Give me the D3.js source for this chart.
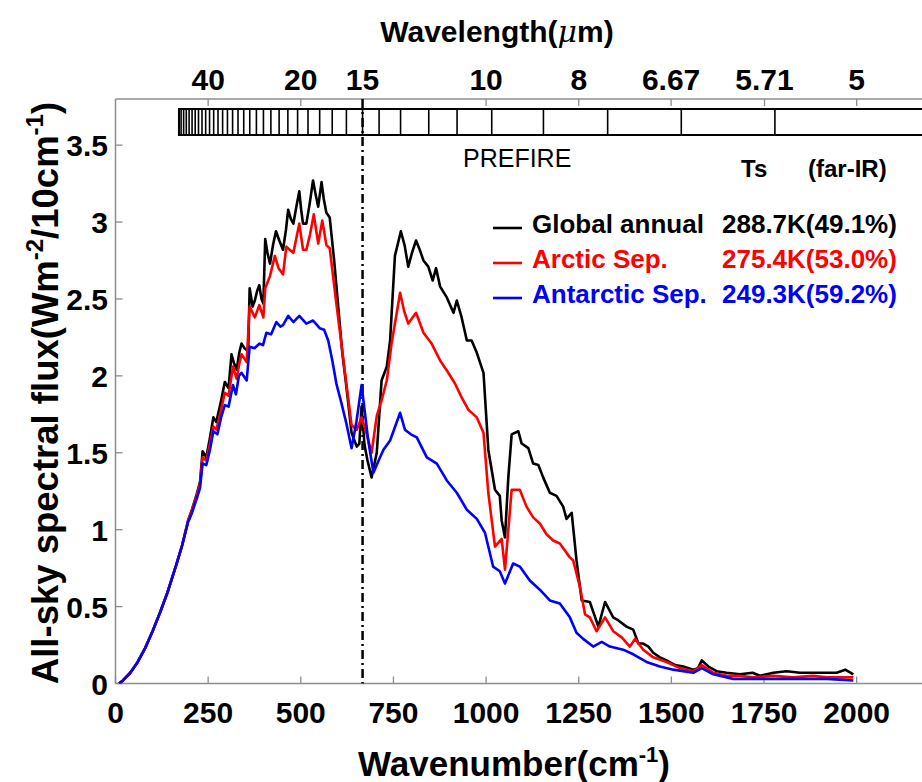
<!DOCTYPE html>
<html><head><meta charset="utf-8">
<script src="https://cdn.jsdelivr.net/npm/d3@7"></script>
<style>body{margin:0;background:#fff} svg{display:block} text{font-family:"Liberation Sans",Arial,Helvetica,sans-serif}</style>
</head><body><svg id="c" width="922" height="782"></svg>
<script>
// ---------- data ----------
const wnGlobal = [10,20,40,60,80,100,120,140,165,180,196,205,219,228,235,245,255,264,272,285,295,305,313,320,327,334,340,348,358,362,370,376,382,388,394,399,404,410,417,425,433,442,452,460,466,473,480,488,496,501,506,515,524,533,540,547,556,562,569,578,590,601,612,623,637,651,658,664,672,680,691,705,718,732,741,754,770,780,790,800,811,821,831,844,856,865,876,894,912,921,934,948,961,975,993,1006,1024,1037,1042,1051,1060,1069,1087,1096,1114,1127,1141,1154,1172,1190,1208,1217,1231,1244,1258,1280,1303,1321,1343,1357,1379,1397,1411,1424,1438,1451,1469,1487,1510,1532,1559,1572,1582,1600,1622,1649,1685,1719,1739,1775,1811,1847,1883,1919,1946,1969,1991];
const fluxGlobal = [0.00,0.02,0.07,0.14,0.23,0.34,0.46,0.59,0.78,0.90,1.06,1.12,1.23,1.31,1.51,1.47,1.60,1.73,1.70,1.84,1.96,1.92,2.14,2.08,2.04,2.15,2.21,2.18,2.16,2.57,2.45,2.49,2.55,2.59,2.50,2.47,2.89,2.80,2.73,2.85,2.94,2.88,2.82,2.95,3.08,3.02,2.99,3.10,3.20,3.08,2.99,2.99,3.12,3.27,3.18,3.10,3.26,3.15,3.06,3.03,2.75,2.45,2.15,1.93,1.63,1.54,1.56,1.80,1.55,1.45,1.34,1.50,1.97,2.06,2.23,2.78,2.94,2.85,2.71,2.80,2.88,2.82,2.75,2.71,2.62,2.70,2.58,2.51,2.41,2.49,2.38,2.23,2.23,2.15,2.02,1.52,1.26,1.22,1.06,0.95,1.34,1.62,1.64,1.56,1.53,1.43,1.42,1.34,1.24,1.22,1.15,1.07,1.11,0.80,0.54,0.53,0.37,0.53,0.43,0.41,0.37,0.35,0.26,0.26,0.24,0.20,0.17,0.15,0.12,0.11,0.09,0.10,0.15,0.11,0.08,0.07,0.06,0.07,0.05,0.07,0.08,0.07,0.07,0.07,0.07,0.09,0.06];

const wnArctic = [10,20,40,60,80,100,120,140,165,180,196,205,219,228,235,245,255,264,272,285,295,305,317,327,334,340,354,362,376,388,399,404,417,430,440,452,461,470,480,496,506,515,525,535,547,558,569,578,596,610,623,637,651,664,678,691,705,718,732,745,768,779,790,811,831,853,876,898,916,934,952,975,993,1006,1024,1042,1051,1069,1091,1109,1127,1145,1163,1181,1199,1226,1235,1253,1267,1280,1298,1321,1343,1366,1388,1402,1424,1451,1487,1523,1559,1582,1613,1649,1685,1721,1775,1829,1883,1919,1960,1991];
const fluxArctic = [0.00,0.02,0.07,0.14,0.23,0.34,0.46,0.59,0.78,0.90,1.06,1.12,1.22,1.30,1.47,1.45,1.56,1.67,1.65,1.78,1.89,1.87,2.06,1.98,2.08,2.14,2.09,2.45,2.38,2.46,2.38,2.57,2.65,2.78,2.70,2.66,2.84,2.82,2.80,2.99,2.82,2.82,2.92,3.05,2.86,3.01,2.85,2.83,2.47,2.20,1.95,1.68,1.65,1.73,1.62,1.50,1.74,1.84,1.97,2.21,2.54,2.42,2.34,2.41,2.28,2.21,2.10,2.02,1.95,1.86,1.78,1.73,1.63,1.24,0.89,0.94,0.74,1.26,1.26,1.15,1.08,1.04,0.97,0.93,0.91,0.82,0.80,0.63,0.45,0.43,0.34,0.43,0.34,0.30,0.24,0.29,0.22,0.17,0.14,0.10,0.08,0.12,0.07,0.05,0.05,0.04,0.05,0.04,0.05,0.04,0.04,0.04];

const wnAntarctic = [10,20,40,60,80,100,120,140,165,180,196,205,219,228,235,245,255,264,275,285,295,305,317,325,333,340,354,362,375,389,398,407,420,434,445,452,466,480,496,515,533,551,563,574,585,596,610,623,637,650,664,682,696,710,723,741,768,781,797,813,840,867,894,921,948,975,997,1019,1037,1051,1073,1091,1118,1145,1172,1199,1226,1244,1262,1289,1312,1334,1370,1397,1433,1469,1505,1559,1582,1613,1667,1739,1829,1919,1991];
const fluxAntarctic = [0.00,0.02,0.07,0.14,0.23,0.34,0.46,0.59,0.78,0.90,1.05,1.10,1.20,1.27,1.43,1.42,1.52,1.64,1.62,1.73,1.81,1.80,1.94,1.88,2.00,2.02,1.97,2.19,2.18,2.21,2.20,2.28,2.27,2.35,2.32,2.33,2.39,2.35,2.39,2.34,2.36,2.31,2.30,2.23,2.10,1.95,1.82,1.69,1.53,1.70,1.94,1.58,1.37,1.45,1.52,1.58,1.76,1.65,1.62,1.60,1.47,1.43,1.32,1.24,1.13,1.07,0.98,0.76,0.73,0.65,0.78,0.76,0.67,0.61,0.54,0.52,0.43,0.33,0.29,0.24,0.27,0.24,0.22,0.19,0.14,0.11,0.09,0.07,0.10,0.06,0.03,0.03,0.03,0.03,0.02];

const seriesNames = ["Global annual","Arctic Sep.","Antarctic Sep."];
const seriesTs = ["288.7K(49.1%)","275.4K(53.0%)","249.3K(59.2%)"];
const seriesColors = ["#000000","#ff0000","#0000ff"];

const xTicks = [0,250,500,750,1000,1250,1500,1750,2000];
const yTicks = [0,0.5,1,1.5,2,2.5,3,3.5];
const yTickLabels = ["0","0.5","1","1.5","2","2.5","3","3.5"];
const wavelengthTicks = [40,20,15,10,8,6.67,5.71,5];
const wavelengthLabels = ["40","20","15","10","8","6.67","5.71","5"];
const co2BandUm = 15; // dash-dot marker
// PREFIRE channel edges (μm)
const bandEdgesUm = [5.62,6.55,7.53,8.66,9.85,10.85,11.83,13.0,14.06,15.0,16.05,17.1,18.15,19.25,20.35,21.5,22.65,23.85,25.05,26.3,27.6,28.9,30.25,31.65,33.1,34.6,36.15,37.75,39.4,41.1,42.85,44.65,46.5,48.4,50.35,52.35,54.4,56.5,58.4];

// ---------- layout ----------
const svg = d3.select("#c");
const x = d3.scaleLinear().domain([0,2200]).range([115.5,930.8]);
const y = d3.scaleLinear().domain([0,3.8]).range([683.5,99]);
const axisCol = "#8c8c8c";

svg.append("clipPath").attr("id","clip").append("rect")
  .attr("x",x(0)).attr("y",y(3.8)).attr("width",x(2200)-x(0)).attr("height",y(0)-y(3.8));

// axis box
const g = svg.append("g");
g.append("line").attr("x1",x(0)).attr("x2",x(2200)).attr("y1",y(0)).attr("y2",y(0)).attr("stroke",axisCol).attr("stroke-width",1.5);
g.append("line").attr("x1",x(0)).attr("x2",x(2200)).attr("y1",y(3.8)).attr("y2",y(3.8)).attr("stroke",axisCol).attr("stroke-width",1.5);
g.append("line").attr("x1",x(0)).attr("x2",x(0)).attr("y1",y(0)).attr("y2",y(3.8)).attr("stroke",axisCol).attr("stroke-width",1.5);

// bottom ticks
g.selectAll(".xt").data(xTicks).join("line")
  .attr("x1",d=>x(d)).attr("x2",d=>x(d)).attr("y1",y(0)).attr("y2",y(0)-7)
  .attr("stroke",axisCol).attr("stroke-width",1.3);
g.selectAll(".xl").data(xTicks).join("text")
  .attr("x",d=>x(d)).attr("y",723).attr("text-anchor","middle")
  .attr("font-size",30).attr("font-weight","bold").attr("fill","#000").text(d=>d);
// left ticks
g.selectAll(".yt").data(yTicks).join("line")
  .attr("x1",x(0)).attr("x2",x(0)+7).attr("y1",d=>y(d)).attr("y2",d=>y(d))
  .attr("stroke",axisCol).attr("stroke-width",1.3);
g.selectAll(".yl").data(yTicks).join("text")
  .attr("x",108).attr("y",d=>y(d)+11).attr("text-anchor","end")
  .attr("font-size",30).attr("font-weight","bold").attr("fill","#000").text((d,i)=>yTickLabels[i]);
// top ticks (wavelength)
g.selectAll(".tt").data(wavelengthTicks).join("line")
  .attr("x1",d=>x(10000/d)).attr("x2",d=>x(10000/d)).attr("y1",y(3.8)).attr("y2",y(3.8)+7)
  .attr("stroke",axisCol).attr("stroke-width",1.3);
g.selectAll(".tl").data(wavelengthTicks).join("text")
  .attr("x",d=>x(10000/d)).attr("y",90).attr("text-anchor","middle")
  .attr("font-size",30).attr("font-weight","bold").attr("fill","#000").text((d,i)=>wavelengthLabels[i]);

// titles
const tTop = svg.append("text").attr("x",497).attr("y",42).attr("text-anchor","middle")
  .attr("font-size",30).attr("font-weight","bold");
tTop.append("tspan").text("Wavelength(");
tTop.append("tspan").attr("font-style","italic").attr("font-family","'DejaVu Serif',serif").attr("font-weight","normal").text("\u03bc");
tTop.append("tspan").text("m)");

const tBot = svg.append("text").attr("x",514).attr("y",776).attr("text-anchor","middle")
  .attr("font-size",35).attr("font-weight","bold");
tBot.append("tspan").text("Wavenumber(cm");
tBot.append("tspan").attr("font-size",22).attr("dy",-14).text("-1");
tBot.append("tspan").attr("dy",14).text(")");

const tY = svg.append("text").attr("transform","translate(58,393) rotate(-90)").attr("text-anchor","middle")
  .attr("font-size",36.5).attr("font-weight","bold");
tY.append("tspan").text("All-sky spectral flux(Wm");
tY.append("tspan").attr("font-size",24).attr("dy",-15).text("-2");
tY.append("tspan").attr("dy",15).text("/10cm");
tY.append("tspan").attr("font-size",24).attr("dy",-15).text("-1");
tY.append("tspan").attr("dy",15).text(")");

// PREFIRE band box
const bandTop = 109, bandBot = 135;
const edgesWn = bandEdgesUm.map(u=>10000/u);
const bandG = svg.append("g").attr("clip-path","url(#clip)");
bandG.append("rect").attr("x",x(d3.min(edgesWn))).attr("y",bandTop)
  .attr("width",x(2200)-x(d3.min(edgesWn))+20).attr("height",bandBot-bandTop)
  .attr("fill","none").attr("stroke","#000").attr("stroke-width",2);
bandG.selectAll(".be").data(edgesWn).join("line")
  .attr("x1",d=>x(d)).attr("x2",d=>x(d)).attr("y1",bandTop).attr("y2",bandBot)
  .attr("stroke","#000").attr("stroke-width",1.6);

// dash-dot 15 μm line
svg.append("line").attr("x1",x(10000/co2BandUm)).attr("x2",x(10000/co2BandUm))
  .attr("y1",y(3.8)).attr("y2",y(0)).attr("stroke","#000").attr("stroke-width",2.5)
  .attr("stroke-dasharray","9,4,2,4");

// curves
const line = d3.line().x(d=>x(d[0])).y(d=>y(d[1]));
const series = [d3.zip(wnGlobal,fluxGlobal), d3.zip(wnArctic,fluxArctic), d3.zip(wnAntarctic,fluxAntarctic)];
const cg = svg.append("g").attr("clip-path","url(#clip)");
series.forEach((s,i)=>{
  cg.append("path").attr("d",line(s)).attr("fill","none").attr("stroke",seriesColors[i])
    .attr("stroke-width",2.6).attr("stroke-linejoin","round");
});

// annotations
svg.append("text").attr("x",463).attr("y",167).attr("font-size",25).text("PREFIRE");
svg.append("text").attr("x",741).attr("y",177).attr("font-size",24).attr("font-weight","bold").text("Ts");
svg.append("text").attr("x",808).attr("y",177).attr("font-size",24).attr("font-weight","bold").text("(far-IR)");

// legend
const lg = svg.append("g");
seriesNames.forEach((n,i)=>{
  const by = 233 + i*35;
  lg.append("line").attr("x1",493).attr("x2",522).attr("y1",by-5).attr("y2",by-5)
    .attr("stroke",seriesColors[i]).attr("stroke-width",2.6);
  lg.append("text").attr("x",532).attr("y",by).attr("font-size",26).attr("font-weight","bold")
    .attr("fill",seriesColors[i]).text(n);
  lg.append("text").attr("x",722).attr("y",by).attr("font-size",26).attr("font-weight","bold")
    .attr("fill",seriesColors[i]).text(seriesTs[i]);
});
</script></body></html>
